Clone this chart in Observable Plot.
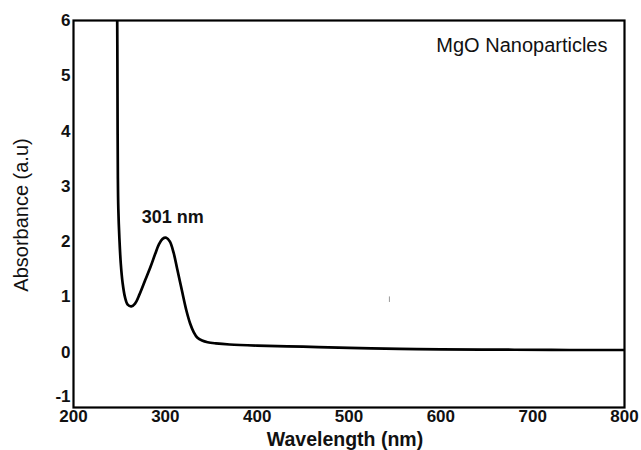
<!DOCTYPE html>
<html>
<head>
<meta charset="utf-8">
<script src="https://cdn.jsdelivr.net/npm/d3@7"></script>
<script src="https://cdn.jsdelivr.net/npm/@observablehq/plot@0.6"></script>
<style>
  html, body { margin: 0; padding: 0; background: #fff; }
  svg { font-family: "Liberation Sans", Arial, sans-serif; }
</style>
</head>
<body>
<div id="chart"></div>
<script>
// Wavelength (nm) and absorbance (a.u)
const wavelength = [247.6, 247.8, 248.0, 248.3, 248.8, 250, 251.5, 253.5, 256, 259, 263, 267, 272, 278, 284, 289, 293, 297, 301, 305, 309, 313, 318, 323, 327, 331, 335, 340, 346, 355, 370, 400, 450, 500, 555, 600, 680, 740, 800];
const absorbance = [6.0, 5.3, 4.2, 3.2, 2.6, 2.05, 1.6, 1.25, 1.0, 0.86, 0.83, 0.88, 1.05, 1.3, 1.55, 1.78, 1.95, 2.05, 2.07, 2.0, 1.8, 1.5, 1.12, 0.75, 0.52, 0.36, 0.26, 0.21, 0.18, 0.16, 0.14, 0.12, 0.10, 0.08, 0.06, 0.05, 0.045, 0.04, 0.04];
const xTicks = [200, 300, 400, 500, 600, 700, 800];
const yTicks = [-1, 0, 1, 2, 3, 4, 5, 6];
const peakLabel = "301 nm";
const peakLabelPos = [308, 2.45];
const sampleLabel = "MgO Nanoparticles";
const xLabel = "Wavelength (nm)";
const yLabel = "Absorbance (a.u)";

const curve = wavelength.map((w, i) => ({w, a: absorbance[i]}));

const chart = Plot.plot({
  width: 641,
  height: 450,
  marginLeft: 73,
  marginRight: 17,
  marginTop: 20,
  marginBottom: 43,
  style: {fontFamily: "'Liberation Sans', Arial, sans-serif", background: "#fff"},
  x: {domain: [200, 800], ticks: xTicks, tickSize: 0, tickPadding: 2, label: null, tickFormat: d => String(d)},
  y: {domain: [-1, 6], ticks: yTicks, tickSize: 0, tickPadding: 3, label: null, tickFormat: d => String(d)},
  marks: [
    Plot.line(curve, {x: "w", y: "a", stroke: "#000", strokeWidth: 2.7, curve: "catmull-rom", clip: true}),
    Plot.ruleX([544], {y1: 0.9, y2: 1.0, stroke: "#999", strokeWidth: 1}),
    Plot.text([peakLabel], {x: peakLabelPos[0], y: peakLabelPos[1], text: d => d, fontSize: 18, fontWeight: "bold", fill: "#111"}),
    Plot.text([sampleLabel], {frameAnchor: "top-right", dx: -17, dy: 17, text: d => d, fontSize: 20, fill: "#111", textAnchor: "end"}),
    Plot.frame({stroke: "#000", strokeWidth: 2.2})
  ]
});

// style axis tick labels
chart.querySelectorAll("g[aria-label='x-axis tick label'], g[aria-label='y-axis tick label']").forEach(g => {
  g.setAttribute("font-size", "17");
  g.setAttribute("font-weight", "bold");
  g.setAttribute("fill", "#111");
});
// the lowest y label sits slightly above the corner, as in the reference
chart.querySelectorAll("g[aria-label='y-axis tick label'] text").forEach(t => {
  if (t.textContent === "-1") t.setAttribute("dy", "-0.62em");
});

// axis titles
const ns = "http://www.w3.org/2000/svg";
const xt = document.createElementNS(ns, "text");
xt.setAttribute("x", 345);
xt.setAttribute("y", 446);
xt.setAttribute("text-anchor", "middle");
xt.setAttribute("font-size", "19.5");
xt.setAttribute("font-weight", "bold");
xt.setAttribute("fill", "#111");
xt.textContent = xLabel;
chart.appendChild(xt);

const yt = document.createElementNS(ns, "text");
yt.setAttribute("transform", "translate(28,215) rotate(-90)");
yt.setAttribute("text-anchor", "middle");
yt.setAttribute("font-size", "20");
yt.setAttribute("fill", "#111");
yt.textContent = yLabel;
chart.appendChild(yt);

document.getElementById("chart").appendChild(chart);
</script>
</body>
</html>
